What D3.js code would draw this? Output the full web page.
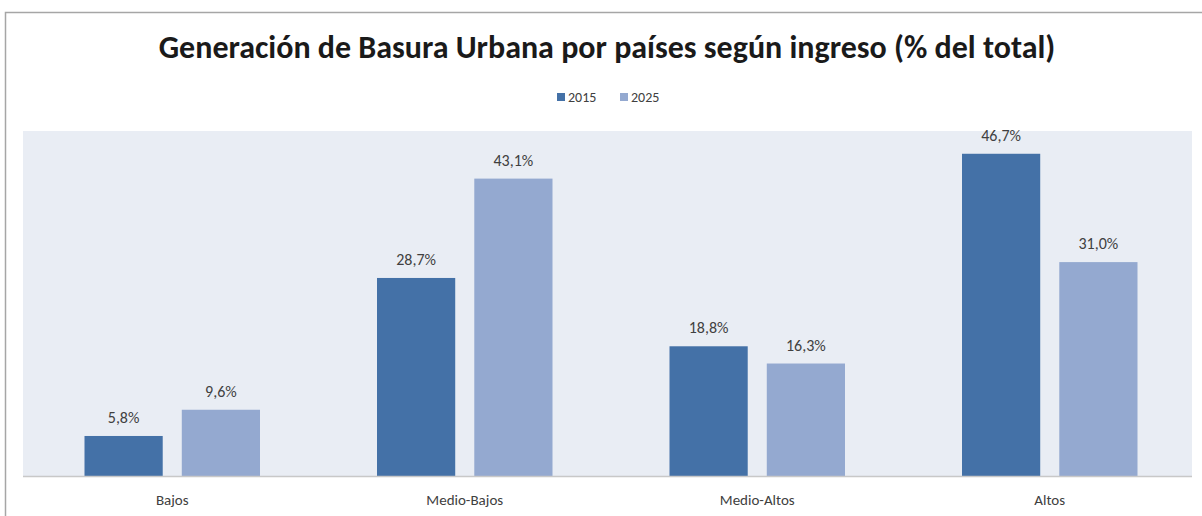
<!DOCTYPE html>
<html><head><meta charset="utf-8">
<script src="https://cdn.jsdelivr.net/npm/d3@7"></script>
<style>body{margin:0;background:#fff}svg{display:block}</style>
</head><body>
<svg id="c" width="1202" height="516"></svg>
<script>
const categories = ["Bajos", "Medio-Bajos", "Medio-Altos", "Altos"];
const seriesNames = ["2015", "2025"];
const values2015 = [5.8, 28.7, 18.8, 46.7];
const values2025 = [9.6, 43.1, 16.3, 31.0];
const labels2015 = ["5,8%", "28,7%", "18,8%", "46,7%"];
const labels2025 = ["9,6%", "43,1%", "16,3%", "31,0%"];
const colors = ["#4471a7", "#94a9d0"];
const title = "Generación de Basura Urbana por países según ingreso (% del total)";

const svg = d3.select("#c");
const font = "Calibri, Carlito, 'Liberation Sans Narrow', 'Open Sans', sans-serif";

// chart frame
svg.append("rect").attr("x", 5.5).attr("y", 12.5).attr("width", 1220).attr("height", 540)
  .attr("fill", "#fff").attr("stroke", "#a6a6a6").attr("stroke-width", 1.5);

const plot = {left: 26, right: 1196, top: 131, bottom: 476};
svg.append("rect").attr("x", 23).attr("y", plot.top)
  .attr("width", 1192 - 23).attr("height", plot.bottom - plot.top)
  .attr("fill", "#e9edf4");

const x0 = d3.scaleBand().domain(categories).range([plot.left, plot.right]).paddingInner(0.4).paddingOuter(0.2);
const x1 = d3.scaleBand().domain(seriesNames).range([0, x0.bandwidth()]).paddingInner(0.196);
const y = d3.scaleLinear().domain([0, 50]).range([plot.bottom, plot.top]);

const data = categories.map((c, i) => ({cat: c, vals: [
  {s: "2015", v: values2015[i], l: labels2015[i]},
  {s: "2025", v: values2025[i], l: labels2025[i]}]}));

const g = svg.append("g").selectAll("g").data(data).join("g")
  .attr("transform", d => `translate(${x0(d.cat)},0)`);
g.selectAll("rect").data(d => d.vals).join("rect")
  .attr("x", d => x1(d.s)).attr("width", x1.bandwidth())
  .attr("y", d => y(d.v)).attr("height", d => y(0) - y(d.v))
  .attr("fill", (d, i) => colors[i]);
g.selectAll("text").data(d => d.vals).join("text")
  .attr("x", d => x1(d.s) + x1.bandwidth() / 2).attr("y", d => y(d.v) - 13)
  .attr("text-anchor", "middle").attr("font-family", font).attr("font-size", 16)
  .attr("fill", "#404040").text(d => d.l);

// baseline
svg.append("line").attr("x1", 23).attr("x2", 1192)
  .attr("y1", plot.bottom + 0.5).attr("y2", plot.bottom + 0.5)
  .attr("stroke", "#c8c8c8").attr("stroke-width", 1.5);

// x axis labels
const xAxis = d3.axisBottom(x0).tickSize(0).tickPadding(18);
const ax = svg.append("g").attr("transform", `translate(0,${plot.bottom})`).call(xAxis);
ax.select(".domain").remove();
ax.selectAll("text").attr("font-family", font).attr("font-size", 15).attr("fill", "#404040");

// title
svg.append("text").attr("x", 607).attr("y", 58).attr("text-anchor", "middle")
  .attr("font-family", font).attr("font-weight", "bold").attr("font-size", 32)
  .attr("fill", "#1a1a1a").text(title);

// legend
const leg = svg.append("g").attr("transform", "translate(557,97)");
const items = leg.selectAll("g").data(seriesNames).join("g")
  .attr("transform", (d, i) => `translate(${i * 63},0)`);
items.append("rect").attr("x", 0).attr("y", -4).attr("width", 8).attr("height", 8)
  .attr("fill", (d, i) => colors[i]);
items.append("text").attr("x", 11).attr("y", 5).attr("font-family", font)
  .attr("font-size", 14).attr("fill", "#404040").text(d => d);
</script>
</body></html>
